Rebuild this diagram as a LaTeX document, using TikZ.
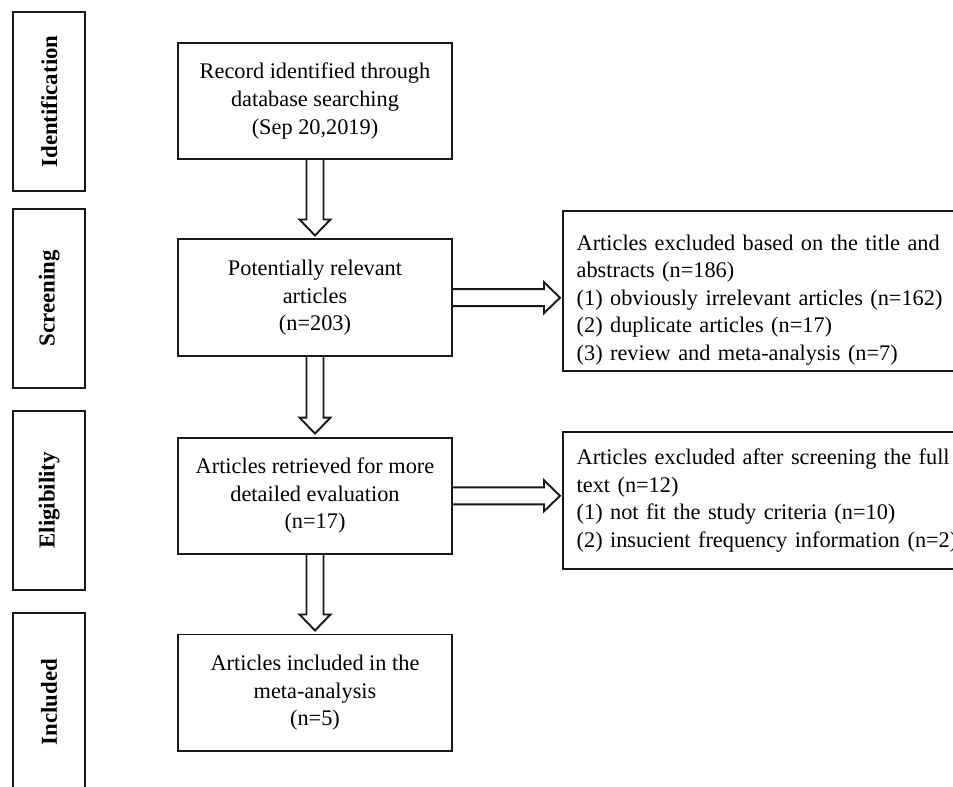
\documentclass[tikz,border=0pt]{standalone}
\usepackage{fontspec}
\setmainfont{Liberation Serif}
\usetikzlibrary{calc, math}
\definecolor{myline}{RGB}{25,25,25}

\tikzset{
stagebox/.style={draw=myline, line width=1.1pt, rotate=90, minimum width=3.57cm, minimum height=1.434cm, inner sep=0pt, font=\fontsize{13}{15}\selectfont\bfseries},
mainbox/.style={draw=myline, line width=1.1pt, minimum width=5.48cm, minimum height=2.33cm, align=center, font=\fontsize{12.7}{15.7}\selectfont},
exclbox/.style={draw=myline, line width=1.1pt, anchor=west, inner xsep=0.274cm, inner ysep=1pt, text width=7.9cm, align=left, font=\fontsize{12.7}{15.7}\selectfont},
hollow/.style={draw=myline, line width=1.1pt, line join=miter},
}

% hollow block arrows between two boxes
\newcommand{\hollowdown}[2]{%
\draw[hollow] ($(#1.south)+(-\sw,0)$) -- ($(#2.north)+(-\sw,-\hl-\gp)$) -- ++(-\hw+\sw,0)
  -- ($(#2.north)+(0,-\gp)$) -- ($(#2.north)+(\hw,-\hl-\gp)$) -- ++(-\hw+\sw,0) -- ($(#1.south)+(\sw,0)$);}
\newcommand{\hollowright}[2]{%
\draw[hollow] ($(#1.east)+(0,-\sw)$) -- ($(#2.west|-#1.east)+(-\hl-2,-\sw)$) -- ++(0,-\hw+\sw)
  -- ($(#2.west|-#1.east)+(-2,0)$) -- ($(#2.west|-#1.east)+(-\hl-2,\hw)$) -- ++(0,-\hw+\sw) -- ($(#1.east)+(0,\sw)$);}

\begin{document}
\begin{tikzpicture}[x=0.02cm, y=-0.02cm]
\tikzmath{
\sw=8.5;%half shaft
\hw=15.5;%half head
\hl=16;%head length
\gp=3;
}
\useasboundingbox (0,0) rectangle (953,787);
\clip (0,0) rectangle (953,787);

% stages
\node[stagebox] (ident) at (49.2,101.5) {Identification};
\node[stagebox] (screen) at (49.2,298.5) {Screening};
\node[stagebox] (elig) at (49.2,500.3) {Eligibility};
\node[stagebox] (incl) at (49.2,702) {Included};

% flow
\node[mainbox] (record) at (315,101) {Record identified through\\database searching\\(Sep 20,2019)};
\node[mainbox] (relevant) at (315,297.7) {Potentially relevant\\articles\\(n=203)};
\node[mainbox] (retrieved) at (315,495.8) {Articles retrieved for more\\detailed evaluation\\(n=17)};
\node[mainbox] (included) at (315,692.7) {Articles included in the\\meta-analysis\\(n=5)};

\node[exclbox, minimum height=3.19cm] (exclA) at (562,290.9) {\rule{0pt}{19pt}Articles excluded based on the title and\\abstracts (n=186)\\(1) obviously irrelevant articles (n=162)\\(2) duplicate articles (n=17)\\(3) review and meta-analysis (n=7)};
\node[exclbox, minimum height=2.74cm] (exclB) at (562,500.5) {Articles excluded after screening the full\\text (n=12)\\(1) not fit the study criteria (n=10)\\(2) insucient frequency information (n=2)};

\hollowdown{record}{relevant}
\hollowdown{relevant}{retrieved}
\hollowdown{retrieved}{included}
\hollowright{relevant}{exclA}
\hollowright{retrieved}{exclB}
\end{tikzpicture}
\end{document}
